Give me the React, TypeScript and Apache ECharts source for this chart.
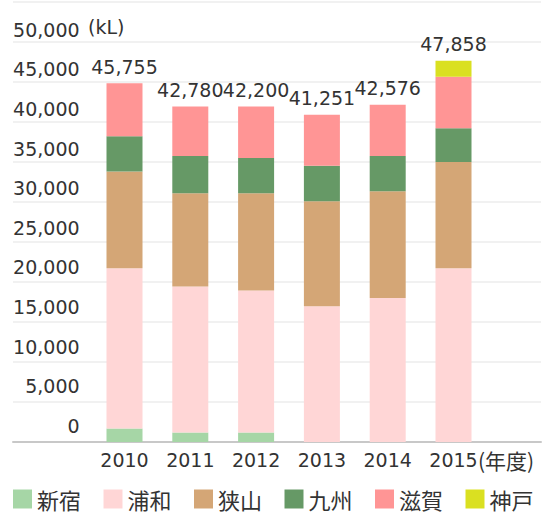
import React, { useEffect, useRef } from "react";
import * as echarts from "echarts";

const years = ["2010", "2011", "2012", "2013", "2014", "2015"];
const shinjuku = [1710, 1210, 1210, 0, 0, 0];
const urawa = [20205, 18415, 17915, 17125, 18165, 21915];
const sayama = [12210, 11750, 12250, 13250, 13460, 13420];
const kyushu = [4455, 4710, 4460, 4460, 4460, 4250];
const shiga = [6670, 6250, 6500, 6455, 6455, 6500];
const kobe = [0, 0, 0, 0, 0, 2005];
const totals = [45755, 42780, 42200, 41251, 42576, 47858];
const yMin = 0;
const yMax = 55000;
const yInterval = 5000;

const seriesDefs = [
  { name: "新宿", data: shinjuku, color: "#a6d6a6" },
  { name: "浦和", data: urawa, color: "#ffd6d6" },
  { name: "狭山", data: sayama, color: "#d4a676" },
  { name: "九州", data: kyushu, color: "#669966" },
  { name: "滋賀", data: shiga, color: "#ff9595" },
  { name: "神戸", data: kobe, color: "#dae021" },
];

const NUM_FONT = "DejaVu Sans";
const CJK_FONT = "Noto Sans CJK JP";
const TEXT_COLOR = "#333333";

export default function App() {
  const ref = useRef<HTMLDivElement>(null);
  useEffect(() => {
    document.body.style.margin = "0";
    if (!ref.current) return;
    const chart = echarts.init(ref.current, null, { renderer: "svg" });
    const fmt = (v: number) => v.toLocaleString("en-US");
    const option: any = {
      animation: false,
      grid: [
        { left: 13, right: 8, top: 2, bottom: 72 },
        { left: 91.6, width: 394.8, top: 2, bottom: 72 },
      ],
      xAxis: [
        {
          gridIndex: 0,
          type: "value",
          min: 0,
          max: 1,
          axisLine: { show: true, lineStyle: { color: "#c8c8c8", width: 2 } },
          axisTick: { show: false },
          axisLabel: { show: false },
          splitLine: { show: false },
        },
        {
          gridIndex: 1,
          type: "category",
          data: years,
          axisLine: { show: false },
          axisTick: { show: false },
          axisLabel: {
            margin: 8,
            fontFamily: NUM_FONT,
            fontSize: 19,
            color: TEXT_COLOR,
          },
        },
      ],
      yAxis: [
        {
          gridIndex: 0,
          type: "value",
          min: yMin,
          max: yMax,
          interval: yInterval,
          axisLine: { show: false },
          axisTick: { show: false },
          axisLabel: { show: false },
          splitLine: { show: true, lineStyle: { color: "#ececec", width: 1.5 } },
        },
        {
          gridIndex: 1,
          type: "value",
          min: yMin,
          max: yMax,
          interval: yInterval,
          axisLine: { show: false },
          axisTick: { show: false },
          splitLine: { show: false },
          axisLabel: {
            margin: 12,
            fontFamily: NUM_FONT,
            fontSize: 19,
            color: TEXT_COLOR,
            align: "right",
            verticalAlign: "bottom",
            lineHeight: 20,
            padding: [0, 0, 6, 0],
            formatter: (v: number) => (v >= yMax ? "" : fmt(v)),
          },
        },
      ],
      legend: {
        data: seriesDefs.map((s) => s.name),
        left: 13,
        top: 486,
        padding: 0,
        icon: "rect",
        itemWidth: 19,
        itemHeight: 19,
        itemGap: 22.5,
        textStyle: {
          fontFamily: CJK_FONT,
          fontSize: 22,
          lineHeight: 26,
          color: TEXT_COLOR,
        },
      },
      series: [
        ...seriesDefs.map((s) => ({
          name: s.name,
          type: "bar",
          stack: "total",
          xAxisIndex: 1,
          yAxisIndex: 1,
          barWidth: 36,
          data: s.data,
          itemStyle: { color: s.color },
        })),
        {
          name: "合計",
          type: "bar",
          stack: "total",
          xAxisIndex: 1,
          yAxisIndex: 1,
          barWidth: 36,
          data: years.map(() => 0),
          itemStyle: { color: "transparent" },
          label: {
            show: true,
            position: "top",
            distance: 7,
            fontFamily: NUM_FONT,
            fontSize: 19,
            color: TEXT_COLOR,
            formatter: (p: any) => fmt(totals[p.dataIndex]),
          },
        },
      ],
      graphic: [
        {
          type: "text",
          x: 88,
          y: 27,
          style: {
            text: "(kL)",
            fontFamily: NUM_FONT,
            fontSize: 19,
            fill: TEXT_COLOR,
            verticalAlign: "middle",
          },
        },
        {
          type: "text",
          x: 478,
          y: 460,
          style: {
            text: "(年度)",
            fontFamily: CJK_FONT,
            fontSize: 21,
            fill: TEXT_COLOR,
            verticalAlign: "middle",
          },
        },
      ],
    };
    chart.setOption(option);
    return () => chart.dispose();
  }, []);
  return <div ref={ref} style={{ width: 549, height: 514 }} />;
}
